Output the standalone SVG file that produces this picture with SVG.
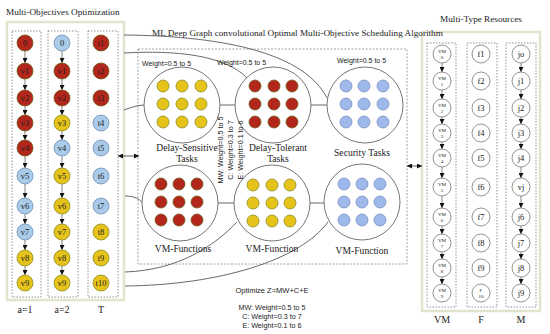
<svg xmlns="http://www.w3.org/2000/svg" width="550" height="334" viewBox="0 0 550 334">
<defs>
<style>
.serif{font-family:"Liberation Serif","Times New Roman",serif;fill:#222}
.sans{font-family:"Liberation Sans",Arial,sans-serif;fill:#222}
.ttl{font-size:9.2px}
.lbl{font-size:9.6px;text-anchor:middle}
.cl{font-size:10px;text-anchor:middle}
.nt{font-size:8.5px;text-anchor:middle}
.st{font-size:5px;text-anchor:middle}
.w{font-size:7px}
.wc{font-size:7.2px;text-anchor:middle}
.panel{fill:#fff;stroke:#e3e3cf;stroke-width:2.5}
.col{fill:none;stroke:#777;stroke-width:0.8;stroke-dasharray:1.5 1.5}
.box{fill:none;stroke:#888;stroke-width:0.8;stroke-dasharray:2 1.5}
.big{fill:#fff;stroke:#666;stroke-width:0.9}
.nr{fill:#b3261b;stroke:#6e5a1a;stroke-width:0.8}
.ng{fill:#e6c31b;stroke:#8a8d1f;stroke-width:0.8}
.nb{fill:#a9cbe9;stroke:#7090b0;stroke-width:0.8}
.nd{fill:#9fb9ea;stroke:#7a8fc0;stroke-width:0.8}
.nw{fill:#fff;stroke:#777;stroke-width:0.8}
.con{fill:none;stroke:#444;stroke-width:0.8}
.arr{fill:none;stroke:#666;stroke-width:0.8;marker-end:url(#ah)}
.dbl{fill:none;stroke:#333;stroke-width:0.8;marker-start:url(#ahs);marker-end:url(#ah)}
</style>
<marker id="ah" viewBox="0 0 6 6" refX="6" refY="3" markerWidth="5" markerHeight="5" markerUnits="userSpaceOnUse" orient="auto"><path d="M0,0 L6,3 L0,6 z" fill="#111"/></marker>
<marker id="ahs" viewBox="0 0 6 6" refX="0" refY="3" markerWidth="5" markerHeight="5" markerUnits="userSpaceOnUse" orient="auto"><path d="M6,0 L0,3 L6,6 z" fill="#111"/></marker>
</defs>
<rect width="550" height="334" fill="#fff"/>

<!-- panels -->
<rect class="panel" x="7" y="22" width="117" height="278"/>
<rect class="col" x="12" y="31" width="29" height="266"/>
<rect class="col" x="48" y="31" width="30" height="266"/>
<rect class="col" x="88" y="31" width="30" height="266"/>
<rect class="panel" x="422" y="32" width="118" height="279"/>
<rect class="col" x="427" y="43" width="29" height="264"/>
<rect class="col" x="467" y="43" width="30" height="264"/>
<rect class="col" x="506" y="43" width="30" height="264"/>
<rect class="box" x="138" y="49" width="269" height="215"/>

<!-- titles -->
<text class="serif ttl" x="6" y="15">Multi-Objectives Optimization</text>
<text class="serif ttl" x="152" y="36">ML Deep Graph convolutional Optimal Multi-Objective Scheduling Algorithm</text>
<text class="serif ttl" x="481" y="22" text-anchor="middle">Multi-Type Resources</text>

<!-- connectors -->
<g id="connectors">
<path class="con" d="M124,35 C230,36 305,55 327,98"/>
<path class="con" d="M124,53 C175,50 225,55 247,78"/>
<path class="con" d="M124,110 C132,107 138,105 145,105"/>
<path class="con" d="M125,196 C133,196 138,198 142,202"/>
<path class="con" d="M125,272 C180,270 215,245 237,222"/>
<path class="con" d="M125,286 C220,285 300,260 328,222"/>
<path class="con" d="M220,105 L235,105"/>
<path class="con" d="M311,105 L327,105"/>
<path class="con" d="M218,203 L234,203"/>
<path class="con" d="M310,203 L324,203"/>
<path class="dbl" d="M118,156 L139,156"/>
<path class="dbl" d="M407,166 L422,166"/>
<!-- column arrows a=1 -->
<path class="arr" d="M25,51 V63"/><path class="arr" d="M25,79 V90"/><path class="arr" d="M25,106 V115"/><path class="arr" d="M25,131 V140"/><path class="arr" d="M25,156 V168"/><path class="arr" d="M25,184 V198"/><path class="arr" d="M25,214 V224"/><path class="arr" d="M25,240 V250"/><path class="arr" d="M25,266 V275"/>
<!-- column arrows a=2 -->
<path class="arr" d="M62,51 V63"/><path class="arr" d="M62,79 V90"/><path class="arr" d="M62,106 V115"/><path class="arr" d="M62,131 V140"/><path class="arr" d="M62,156 V168"/><path class="arr" d="M62,184 V198"/><path class="arr" d="M62,214 V224"/><path class="arr" d="M62,240 V250"/><path class="arr" d="M62,266 V275"/>
<!-- VM arrows -->
<path class="arr" d="M442,63 V72"/><path class="arr" d="M442,90 V99"/><path class="arr" d="M442,117 V124"/><path class="arr" d="M442,142 V149"/><path class="arr" d="M442,167 V178"/><path class="arr" d="M442,196 V208"/><path class="arr" d="M442,226 V234"/><path class="arr" d="M442,252 V259"/><path class="arr" d="M442,277 V284"/>
<!-- M arrows -->
<path class="arr" d="M521,63 V72"/><path class="arr" d="M521,90 V99"/><path class="arr" d="M521,117 V124"/><path class="arr" d="M521,142 V149"/><path class="arr" d="M521,167 V178"/><path class="arr" d="M521,196 V208"/><path class="arr" d="M521,226 V234"/><path class="arr" d="M521,252 V259"/><path class="arr" d="M521,277 V284"/>
</g>

<!-- a=1 column -->
<g id="a1-0"><circle class="nr" cx="25" cy="43" r="8"/><text class="serif nt" x="25" y="46">0</text></g>
<g id="a1-v1"><circle class="nr" cx="25" cy="71" r="8"/><text class="serif nt" x="25" y="74">v1</text></g>
<g id="a1-v2"><circle class="nr" cx="25" cy="98" r="8"/><text class="serif nt" x="25" y="101">v2</text></g>
<g id="a1-v3"><circle class="nr" cx="25" cy="123" r="8"/><text class="serif nt" x="25" y="126">v3</text></g>
<g id="a1-v4"><circle class="nr" cx="25" cy="148" r="8"/><text class="serif nt" x="25" y="151">v4</text></g>
<g id="a1-v5"><circle class="nb" cx="25" cy="176" r="8"/><text class="serif nt" x="25" y="179">v5</text></g>
<g id="a1-v6"><circle class="nb" cx="25" cy="206" r="8"/><text class="serif nt" x="25" y="209">v6</text></g>
<g id="a1-v7"><circle class="nb" cx="25" cy="232" r="8"/><text class="serif nt" x="25" y="235">v7</text></g>
<g id="a1-v8"><circle class="ng" cx="25" cy="258" r="8"/><text class="serif nt" x="25" y="261">v8</text></g>
<g id="a1-v9"><circle class="ng" cx="25" cy="283" r="8"/><text class="serif nt" x="25" y="286">v9</text></g>

<!-- a=2 column -->
<g id="a2-0"><circle class="nb" cx="62" cy="43" r="8"/><text class="serif nt" x="62" y="46">0</text></g>
<g id="a2-v1"><circle class="nr" cx="62" cy="71" r="8"/><text class="serif nt" x="62" y="74">v1</text></g>
<g id="a2-v2"><circle class="nr" cx="62" cy="98" r="8"/><text class="serif nt" x="62" y="101">v2</text></g>
<g id="a2-v3"><circle class="ng" cx="62" cy="123" r="8"/><text class="serif nt" x="62" y="126">v3</text></g>
<g id="a2-v4"><circle class="nb" cx="62" cy="148" r="8"/><text class="serif nt" x="62" y="151">v4</text></g>
<g id="a2-v5"><circle class="ng" cx="62" cy="176" r="8"/><text class="serif nt" x="62" y="179">v5</text></g>
<g id="a2-v6"><circle class="ng" cx="62" cy="206" r="8"/><text class="serif nt" x="62" y="209">v6</text></g>
<g id="a2-v7"><circle class="ng" cx="62" cy="232" r="8"/><text class="serif nt" x="62" y="235">v7</text></g>
<g id="a2-v8"><circle class="ng" cx="62" cy="258" r="8"/><text class="serif nt" x="62" y="261">v8</text></g>
<g id="a2-v9"><circle class="ng" cx="62" cy="283" r="8"/><text class="serif nt" x="62" y="286">v9</text></g>

<!-- T column -->
<g id="t1"><circle class="nr" cx="101" cy="43" r="8"/><text class="serif nt" x="101" y="46">t1</text></g>
<g id="t2"><circle class="nr" cx="101" cy="71" r="8"/><text class="serif nt" x="101" y="74">t2</text></g>
<g id="t3"><circle class="nr" cx="101" cy="98" r="8"/><text class="serif nt" x="101" y="101">t3</text></g>
<g id="t4"><circle class="nb" cx="101" cy="123" r="8"/><text class="serif nt" x="101" y="126">t4</text></g>
<g id="t5"><circle class="nb" cx="101" cy="148" r="8"/><text class="serif nt" x="101" y="151">t5</text></g>
<g id="t6"><circle class="nb" cx="101" cy="176" r="8"/><text class="serif nt" x="101" y="179">t6</text></g>
<g id="t7"><circle class="nb" cx="101" cy="206" r="8"/><text class="serif nt" x="101" y="209">t7</text></g>
<g id="t8"><circle class="ng" cx="101" cy="232" r="8"/><text class="serif nt" x="101" y="235">t8</text></g>
<g id="t9"><circle class="ng" cx="101" cy="258" r="8"/><text class="serif nt" x="101" y="261">t9</text></g>
<g id="t10"><circle class="ng" cx="101" cy="283" r="8"/><text class="serif nt" x="101" y="286">t10</text></g>

<text class="serif cl" x="25" y="313">a=1</text>
<text class="serif cl" x="62" y="313">a=2</text>
<text class="serif cl" x="101" y="313">T</text>

<!-- central task groups -->
<g id="delay-sensitive">
<circle class="big" cx="182" cy="105" r="38"/>
<g class="ng"><circle cx="163" cy="86" r="6"/><circle cx="182" cy="86" r="6"/><circle cx="201" cy="86" r="6"/><circle cx="163" cy="104" r="6"/><circle cx="182" cy="104" r="6"/><circle cx="201" cy="104" r="6"/><circle cx="163" cy="122" r="6"/><circle cx="182" cy="122" r="6"/><circle cx="201" cy="122" r="6"/></g>
<text class="sans w" x="142" y="66">Weight=0.5 to 5</text>
<text class="serif lbl" x="187" y="151">Delay-Sensitive</text>
<text class="serif lbl" x="187" y="162">Tasks</text>
</g>
<g id="delay-tolerant">
<circle class="big" cx="273" cy="105" r="38"/>
<g class="nr"><circle cx="255" cy="86" r="6"/><circle cx="274" cy="86" r="6"/><circle cx="292" cy="86" r="6"/><circle cx="255" cy="104" r="6"/><circle cx="274" cy="104" r="6"/><circle cx="292" cy="104" r="6"/><circle cx="255" cy="122" r="6"/><circle cx="274" cy="122" r="6"/><circle cx="292" cy="122" r="6"/></g>
<text class="sans w" x="217" y="65">Weight=0.5 to 5</text>
<text class="serif lbl" x="278" y="151">Delay-Tolerant</text>
<text class="serif lbl" x="278" y="162">Tasks</text>
</g>
<g id="security">
<circle class="big" cx="365" cy="105" r="38"/>
<g class="nd"><circle cx="346" cy="86" r="6"/><circle cx="364" cy="86" r="6"/><circle cx="383" cy="86" r="6"/><circle cx="346" cy="104" r="6"/><circle cx="364" cy="104" r="6"/><circle cx="383" cy="104" r="6"/><circle cx="346" cy="122" r="6"/><circle cx="364" cy="122" r="6"/><circle cx="383" cy="122" r="6"/></g>
<text class="sans w" x="337" y="63">Weight=0.5 to 5</text>
<text class="serif lbl" x="362" y="156">Security Tasks</text>
</g>
<g id="vm-functions">
<circle class="big" cx="180" cy="203" r="38"/>
<g class="nr"><circle cx="161" cy="184" r="6"/><circle cx="179" cy="184" r="6"/><circle cx="197" cy="184" r="6"/><circle cx="161" cy="202" r="6"/><circle cx="179" cy="202" r="6"/><circle cx="197" cy="202" r="6"/><circle cx="161" cy="220" r="6"/><circle cx="179" cy="220" r="6"/><circle cx="197" cy="220" r="6"/></g>
<text class="serif lbl" x="183" y="252">VM-Functions</text>
</g>
<g id="vm-function-1">
<circle class="big" cx="272" cy="203" r="38"/>
<g class="ng"><circle cx="253" cy="185" r="6"/><circle cx="272" cy="185" r="6"/><circle cx="290" cy="185" r="6"/><circle cx="253" cy="203" r="6"/><circle cx="272" cy="203" r="6"/><circle cx="290" cy="203" r="6"/><circle cx="253" cy="221" r="6"/><circle cx="272" cy="221" r="6"/><circle cx="290" cy="221" r="6"/></g>
<text class="serif lbl" x="272" y="252">VM-Function</text>
</g>
<g id="vm-function-2">
<circle class="big" cx="362" cy="202" r="38"/>
<g class="nd"><circle cx="344" cy="184" r="6"/><circle cx="362" cy="184" r="6"/><circle cx="380" cy="184" r="6"/><circle cx="344" cy="202" r="6"/><circle cx="362" cy="202" r="6"/><circle cx="380" cy="202" r="6"/><circle cx="344" cy="220" r="6"/><circle cx="362" cy="220" r="6"/><circle cx="380" cy="220" r="6"/></g>
<text class="serif lbl" x="362" y="254">VM-Function</text>
</g>

<!-- rotated weights -->
<text class="sans wc" transform="translate(223,150) rotate(-90)">MW: Weight=0.5 to 5</text>
<text class="sans wc" transform="translate(233,150) rotate(-90)">C: Weight=0.3 to 7</text>
<text class="sans wc" transform="translate(243,150) rotate(-90)">E: Weight=0.1 to 6</text>

<!-- optimize -->
<text class="sans wc" x="272" y="293" style="font-size:7.5px">Optimize Z=MW+C+E</text>
<text class="sans wc" x="272" y="310">MW: Weight=0.5 to 5</text>
<text class="sans wc" x="272" y="319">C: Weight=0.3 to 7</text>
<text class="sans wc" x="272" y="328">E: Weight=0.1 to 6</text>

<!-- VM column -->
<g id="vm0"><circle class="nw" cx="442" cy="54" r="9"/><text class="serif st" x="442" y="53">VM</text><text class="serif st" x="442" y="59">0</text></g>
<g id="vm1"><circle class="nw" cx="442" cy="81" r="9"/><text class="serif st" x="442" y="80">VM</text><text class="serif st" x="442" y="86">1</text></g>
<g id="vm2"><circle class="nw" cx="442" cy="108" r="9"/><text class="serif st" x="442" y="107">VM</text><text class="serif st" x="442" y="113">2</text></g>
<g id="vm3"><circle class="nw" cx="442" cy="133" r="9"/><text class="serif st" x="442" y="132">VM</text><text class="serif st" x="442" y="138">3</text></g>
<g id="vm4"><circle class="nw" cx="442" cy="158" r="9"/><text class="serif st" x="442" y="157">VM</text><text class="serif st" x="442" y="163">4</text></g>
<g id="vm5"><circle class="nw" cx="442" cy="187" r="9"/><text class="serif st" x="442" y="186">VM</text><text class="serif st" x="442" y="192">5</text></g>
<g id="vm6"><circle class="nw" cx="442" cy="217" r="9"/><text class="serif st" x="442" y="216">VM</text><text class="serif st" x="442" y="222">6</text></g>
<g id="vm7"><circle class="nw" cx="442" cy="243" r="9"/><text class="serif st" x="442" y="242">VM</text><text class="serif st" x="442" y="248">7</text></g>
<g id="vm8"><circle class="nw" cx="442" cy="268" r="9"/><text class="serif st" x="442" y="267">VM</text><text class="serif st" x="442" y="273">8</text></g>
<g id="vm9"><circle class="nw" cx="442" cy="293" r="9"/><text class="serif st" x="442" y="292">VM</text><text class="serif st" x="442" y="298">9</text></g>

<!-- F column -->
<g id="f1"><circle class="nw" cx="481" cy="54" r="9"/><text class="serif nt" x="481" y="57">f1</text></g>
<g id="f2"><circle class="nw" cx="481" cy="81" r="9"/><text class="serif nt" x="481" y="84">f2</text></g>
<g id="f3"><circle class="nw" cx="481" cy="108" r="9"/><text class="serif nt" x="481" y="111">f3</text></g>
<g id="f4"><circle class="nw" cx="481" cy="133" r="9"/><text class="serif nt" x="481" y="136">f4</text></g>
<g id="f5"><circle class="nw" cx="481" cy="158" r="9"/><text class="serif nt" x="481" y="161">f5</text></g>
<g id="f6"><circle class="nw" cx="481" cy="187" r="9"/><text class="serif nt" x="481" y="190">f6</text></g>
<g id="f7"><circle class="nw" cx="481" cy="217" r="9"/><text class="serif nt" x="481" y="220">f7</text></g>
<g id="f8"><circle class="nw" cx="481" cy="243" r="9"/><text class="serif nt" x="481" y="246">f8</text></g>
<g id="f9"><circle class="nw" cx="481" cy="268" r="9"/><text class="serif nt" x="481" y="271">f9</text></g>
<g id="f10"><circle class="nw" cx="481" cy="293" r="9"/><text class="serif st" x="481" y="292">F</text><text class="serif st" x="481" y="298">10</text></g>

<!-- M column -->
<g id="jo"><circle class="nw" cx="521" cy="54" r="9"/><text class="serif nt" x="521" y="57">jo</text></g>
<g id="j1"><circle class="nw" cx="521" cy="81" r="9"/><text class="serif nt" x="521" y="84">j1</text></g>
<g id="j2"><circle class="nw" cx="521" cy="108" r="9"/><text class="serif nt" x="521" y="111">j2</text></g>
<g id="j3"><circle class="nw" cx="521" cy="133" r="9"/><text class="serif nt" x="521" y="136">j3</text></g>
<g id="j4"><circle class="nw" cx="521" cy="158" r="9"/><text class="serif nt" x="521" y="161">j4</text></g>
<g id="vj"><circle class="nw" cx="521" cy="187" r="9"/><text class="serif nt" x="521" y="190">vj</text></g>
<g id="j6"><circle class="nw" cx="521" cy="217" r="9"/><text class="serif nt" x="521" y="220">j6</text></g>
<g id="j7"><circle class="nw" cx="521" cy="243" r="9"/><text class="serif nt" x="521" y="246">j7</text></g>
<g id="j8"><circle class="nw" cx="521" cy="268" r="9"/><text class="serif nt" x="521" y="271">j8</text></g>
<g id="j9"><circle class="nw" cx="521" cy="293" r="9"/><text class="serif nt" x="521" y="296">j9</text></g>

<text class="serif cl" x="442" y="323">VM</text>
<text class="serif cl" x="481" y="323">F</text>
<text class="serif cl" x="521" y="323">M</text>
</svg>
